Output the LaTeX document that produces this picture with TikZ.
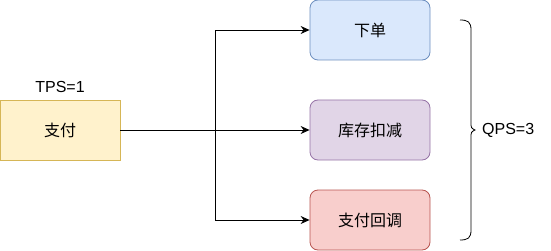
\documentclass[tikz,border=0pt]{standalone}
\usepackage{fontspec}
\setmainfont{Liberation Sans}
\newfontfamily\cjk{Noto Sans CJK SC}
\usepackage{tikz}
\usetikzlibrary{arrows.meta, positioning}

\definecolor{payfill}{HTML}{FFF2CC}
\definecolor{paydraw}{HTML}{D6B656}
\definecolor{orderfill}{HTML}{DAE8FC}
\definecolor{orderdraw}{HTML}{6C8EBF}
\definecolor{stockfill}{HTML}{E1D5E7}
\definecolor{stockdraw}{HTML}{9673A6}
\definecolor{backfill}{HTML}{F8CECC}
\definecolor{backdraw}{HTML}{B85450}

\begin{document}
\begin{tikzpicture}[
        x=1pt, y=-1pt,
        node distance=6pt,
        source/.style={rectangle, line width=0.8pt, minimum height=60pt, minimum width=120pt, align=center, font=\cjk\fontsize{16}{18}\selectfont},
        service/.style={source, rounded corners=8pt},
        label/.style={font=\fontsize{16}{18}\selectfont, inner sep=1pt},
        arrow/.style={-{Stealth[length=9pt, width=8pt, inset=3pt]}, line width=0.8pt, color=black}
    ]
        \useasboundingbox (0,0) rectangle (551,251);
        \node[source, draw=paydraw, fill=payfill] (pay) at (60,130) {支付};
        \node[label, above=of pay] (tps) {TPS=1};
        \node[service, draw=orderdraw, fill=orderfill] (order) at (370,30) {下单};
        \node[service, draw=stockdraw, fill=stockfill] (stock) at (370,130) {库存扣减};
        \node[service, draw=backdraw, fill=backfill] (callback) at (370,220) {支付回调};
        \coordinate (split) at (215,130);
        \draw[arrow] (pay) -- (stock);
        \draw[arrow] (split) |- (order);
        \draw[arrow] (split) |- (callback);
        % brace over the three services
        \draw[line width=0.8pt] (460,20) .. controls (468,20) and (471,22) .. (471,30)
            -- (471,122) .. controls (471,128) .. (475,130)
            .. controls (471,132) .. (471,138)
            -- (471,230) .. controls (471,238) and (468,240) .. (460,240);
        \node[label, anchor=west] (qps) at (481,130) {QPS=3};
    \end{tikzpicture}
\end{document}
